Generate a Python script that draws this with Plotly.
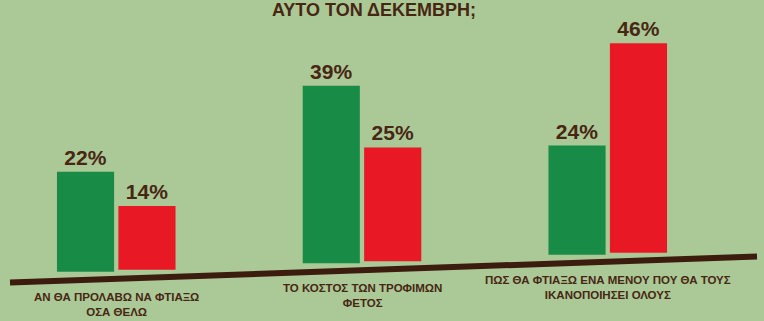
import plotly.graph_objects as go

# ---- data ----
categories = ["ΑΝ ΘΑ ΠΡΟΛΑΒΩ ΝΑ ΦΤΙΑΞΩ<br>ΟΣΑ ΘΕΛΩ",
              "ΤΟ ΚΟΣΤΟΣ ΤΩΝ ΤΡΟΦΙΜΩΝ<br>ΦΕΤΟΣ",
              "ΠΩΣ ΘΑ ΦΤΙΑΞΩ ΕΝΑ ΜΕΝΟΥ ΠΟΥ ΘΑ ΤΟΥΣ<br>ΙΚΑΝΟΠΟΙΗΣΕΙ ΟΛΟΥΣ"]
green_values = [22, 39, 24]
red_values = [14, 25, 46]
title_text = "ΑΥΤΟ ΤΟΝ ΔΕΚΕΜΒΡΗ;"

# ---- style / layout ----
W, H = 764, 321
BG = "rgb(170,201,150)"
GREEN = "rgb(24,140,70)"
RED = "rgb(232,24,36)"
BROWN = "rgb(72,38,20)"
LINE_COL = "rgb(60,28,14)"
FONT = "Liberation Sans, Arial, sans-serif"

PPU = 4.55                      # pixels per percent
UNIT = 245.75                   # pixels per category
X0 = 116.25                     # pixel of first category centre
x_range = [-X0 / UNIT, -X0 / UNIT + W / UNIT]
y_range = [0, H / PPU]

# slanted baseline (pixels)
LX0, LY0, LX1, LY1 = 10, 282.5, 757, 256.5
slope = (LY1 - LY0) / (LX1 - LX0)
def line_y(px):
    return LY0 + slope * (px - LX0)

def bases(offset_units):
    out = []
    for i in range(len(categories)):
        px = X0 + (i + offset_units) * UNIT
        bottom = line_y(px) - 8
        out.append((H - bottom) / PPU)
    return out

fig = go.Figure()
for vals, col, off in [(green_values, GREEN, -0.125), (red_values, RED, 0.125)]:
    fig.add_trace(go.Bar(
        x=list(range(len(categories))), y=vals, base=bases(off),
        marker=dict(color=col, line=dict(width=0)),
        text=[f"{v}%" for v in vals], textposition="outside",
        textfont=dict(family=FONT, size=21, color=BROWN, weight="bold"),
        cliponaxis=False, showlegend=False, hoverinfo="skip",
    ))

fig.add_shape(type="line", xref="paper", yref="paper",
              x0=LX0 / W, y0=1 - LY0 / H, x1=LX1 / W, y1=1 - LY1 / H,
              line=dict(color=LINE_COL, width=6))

for i, cat in enumerate(categories):
    px = X0 + i * UNIT
    fig.add_annotation(x=i, xref="x", y=1 - (line_y(px) + 10) / H, yref="paper",
                       yanchor="top", text=cat, showarrow=False,
                       font=dict(family=FONT, size=11.5, color=BROWN, weight="bold"),
                       align="center")

fig.add_annotation(x=374 / W, xref="paper", y=1 - 10 / H, yref="paper",
                   text=title_text, showarrow=False, yanchor="middle",
                   font=dict(family=FONT, size=18, color=BROWN, weight="bold"))

fig.update_layout(
    width=W, height=H, margin=dict(l=0, r=0, t=0, b=0),
    paper_bgcolor=BG, plot_bgcolor=BG,
    barmode="group", bargap=0.5, bargroupgap=0.07,
    xaxis=dict(range=x_range, visible=False),
    yaxis=dict(range=y_range, visible=False),
)

fig.write_html("out.html")
